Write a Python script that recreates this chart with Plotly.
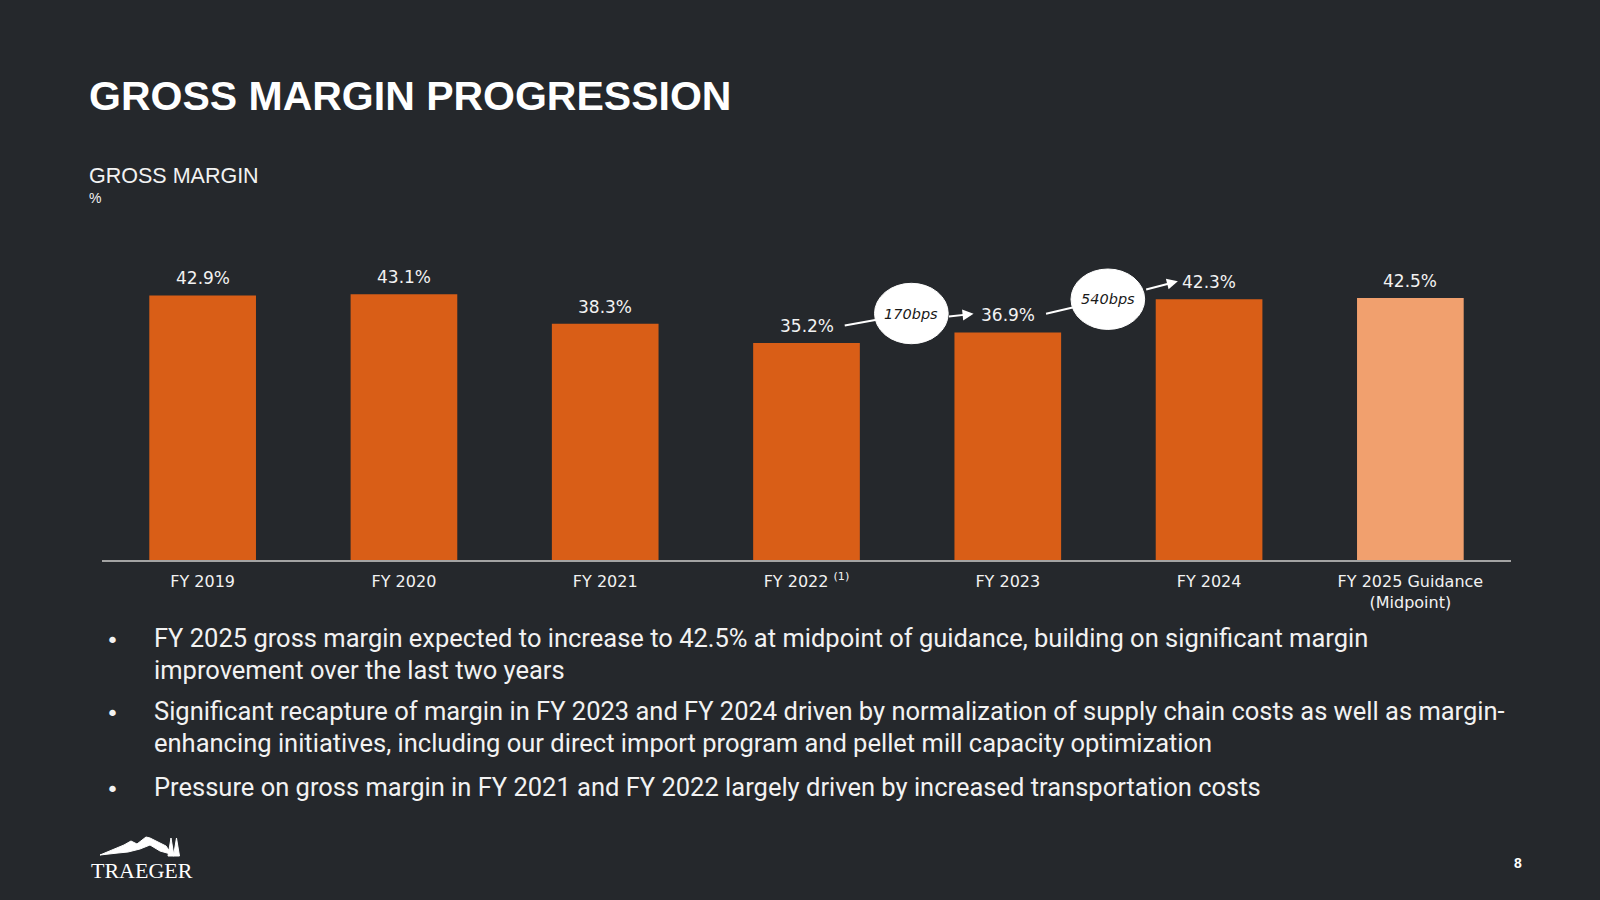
import plotly.graph_objects as go

# ---------------- data ----------------
categories = ["FY 2019", "FY 2020", "FY 2021", "FY 2022 <sup>(1)</sup>", "FY 2023", "FY 2024",
              "FY 2025 Guidance<br>(Midpoint)"]
gross_margin_pct = [42.9, 43.1, 38.3, 35.2, 36.9, 42.3, 42.5]
is_guidance = [False, False, False, False, False, False, True]
bps_changes = ["170bps", "540bps"]   # FY2022->FY2023, FY2023->FY2024
bullets = [
    ["FY 2025 gross margin expected to increase to 42.5% at midpoint of guidance, building on significant margin",
     "improvement over the last two years"],
    ["Significant recapture of margin in FY 2023 and FY 2024 driven by normalization of supply chain costs as well as margin-",
     "enhancing initiatives, including our direct import program and pellet mill capacity optimization"],
    ["Pressure on gross margin in FY 2021 and FY 2022 largely driven by increased transportation costs"],
]

# ---------------- style ----------------
BG = "#25282c"
ORANGE = "#d95e17"
LIGHT = "#f1a06e"
TXT = "#f2f2f2"
W, H = 1600, 900
L, R, T, B = 102, 89, 190, 340
PW, PH = W - L - R, H - T - B

def xp(px):  # pixel -> paper x
    return (px - L) / PW

def yp(py):  # pixel -> paper y
    return (H - B - py) / PH

x_idx = list(range(len(categories)))
colors = [LIGHT if g else ORANGE for g in is_guidance]

fig = go.Figure(go.Bar(
    x=x_idx, y=gross_margin_pct, marker=dict(color=colors, line=dict(width=0)),
    width=0.53, hoverinfo="skip",
))

ann = []
shapes = []
# value labels
for i, v in enumerate(gross_margin_pct):
    ann.append(dict(x=i, y=v, xref="x", yref="y", text=f"{v:.1f}%", showarrow=False,
                    yanchor="middle", yshift=17,
                    font=dict(family="DejaVu Sans", size=17, color=TXT)))

# bubble annotations between bars (i -> i+1)
def bubble(text, cx, cy, tail_from, head_to, left_start):
    shapes.append(dict(type="line", xref="x", yref="y", x0=left_start[0], y0=left_start[1],
                       x1=cx, y1=cy, line=dict(color="white", width=2), layer="above"))
    shapes.append(dict(type="circle", xref="x", yref="y", x0=cx - 0.183, x1=cx + 0.183,
                       y0=cy - 4.9, y1=cy + 4.9, fillcolor="white",
                       line=dict(color="white", width=1), layer="above"))
    ann.append(dict(x=cx, y=cy, xref="x", yref="y", text=f"<i>{text}</i>", showarrow=False,
                    font=dict(family="DejaVu Sans", size=14.5, color="#1a1a1a")))
    ann.append(dict(x=head_to[0], y=head_to[1], ax=tail_from[0], ay=tail_from[1],
                    xref="x", yref="y", axref="x", ayref="y", text="", showarrow=True,
                    arrowhead=2, arrowsize=1.1, arrowwidth=2, arrowcolor="white", standoff=0))

bubble(bps_changes[0], 3.521, 39.97, (3.70, 39.48), (3.83, 39.92), (3.19, 38.03))
bubble(bps_changes[1], 4.497, 42.29, (4.68, 43.81), (4.845, 45.2), (4.19, 39.92))

# title & subtitle
ann.append(dict(x=xp(87), y=yp(96), xref="paper", yref="paper", xanchor="left", yanchor="middle",
                text="<b>GROSS MARGIN PROGRESSION</b>", showarrow=False,
                font=dict(family="Liberation Sans", size=41, color="white")))
ann.append(dict(x=xp(87), y=yp(176), xref="paper", yref="paper", xanchor="left", yanchor="middle",
                text="GROSS MARGIN", showarrow=False,
                font=dict(family="Liberation Sans", size=21.5, color=TXT)))
ann.append(dict(x=xp(87), y=yp(198), xref="paper", yref="paper", xanchor="left", yanchor="middle",
                text="%", showarrow=False,
                font=dict(family="Liberation Sans", size=14, color=TXT)))

# bullets
line_y = [[638, 669.5], [711, 743], [787]]
for lines, ys in zip(bullets, line_y):
    ann.append(dict(x=xp(112), y=yp(ys[0] + 2), xref="paper", yref="paper", xanchor="center",
                    yanchor="middle", text="•", showarrow=False,
                    font=dict(family="DejaVu Sans", size=22, color=TXT)))
    for t, yy in zip(lines, ys):
        ann.append(dict(x=xp(152), y=yp(yy), xref="paper", yref="paper", xanchor="left",
                        yanchor="middle", text=t, showarrow=False,
                        font=dict(family="Roboto", size=25.5, color=TXT)))

# logo
ann.append(dict(x=xp(142), y=yp(870), xref="paper", yref="paper", xanchor="center", yanchor="middle",
                text="TRAEGER", showarrow=False,
                font=dict(family="Liberation Serif", size=22, color="white")))
pts = [(100, 855), (112, 850), (124, 845), (131, 841), (137, 844), (146, 837), (150, 838),
       (160, 843), (166, 846), (170, 852), (174, 855), (160, 851), (150, 845), (140, 849),
       (128, 852), (118, 853)]
path = "M " + " L ".join(f"{xp(a):.5f},{yp(b):.5f}" for a, b in pts) + " Z"
shapes.append(dict(type="path", xref="paper", yref="paper", path=path, fillcolor="white",
                   line=dict(color="white", width=1), layer="above"))
for tx in (171, 176.5):
    tpath = (f"M {xp(tx - 3):.5f},{yp(856):.5f} L {xp(tx):.5f},{yp(838):.5f} "
             f"L {xp(tx + 3):.5f},{yp(856):.5f} Z")
    shapes.append(dict(type="path", xref="paper", yref="paper", path=tpath, fillcolor="white",
                       line=dict(color="white", width=1), layer="above"))

# page number
ann.append(dict(x=xp(1518), y=yp(863), xref="paper", yref="paper", xanchor="center", yanchor="middle",
                text="<b>8</b>", showarrow=False,
                font=dict(family="Liberation Sans", size=14, color="white")))

fig.update_layout(
    width=W, height=H, autosize=False,
    margin=dict(l=L, r=R, t=T, b=B, pad=0),
    paper_bgcolor=BG, plot_bgcolor=BG,
    showlegend=False, bargap=0.47,
    annotations=ann, shapes=shapes,
    xaxis=dict(range=[-0.5, len(categories) - 0.5], tickmode="array", tickvals=x_idx,
               ticktext=categories, showgrid=False, zeroline=False, showline=True,
               linecolor="#a3a3a3", linewidth=2, ticks="", ticklabelstandoff=6,
               tickfont=dict(family="DejaVu Sans", size=16, color=TXT), fixedrange=True),
    yaxis=dict(range=[0, 60], visible=False, fixedrange=True),
)

fig.write_html(
    "out.html",
    config={"displayModeBar": False},
    post_script="document.body.style.margin='0';document.body.style.overflow='hidden';"
                "document.documentElement.style.background='#25282c';",
)
